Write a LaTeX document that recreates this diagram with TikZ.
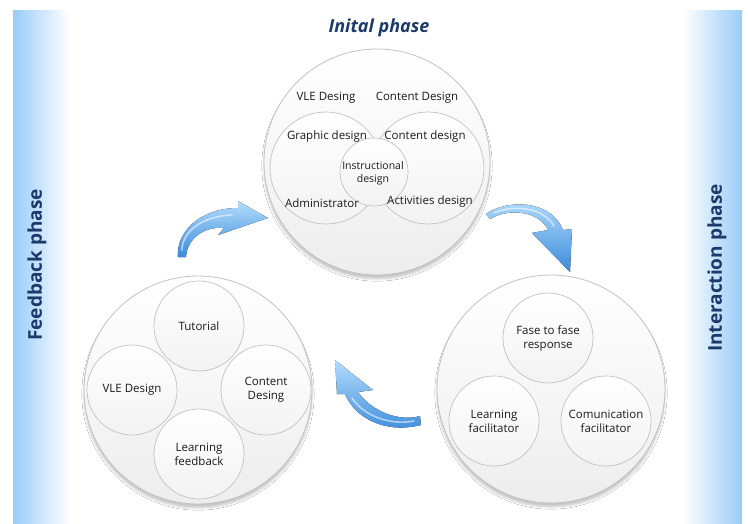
\documentclass[tikz,border=0pt]{standalone}
\usepackage{fontspec}
\setmainfont{Open Sans}
\usetikzlibrary{shadows.blur}
\definecolor{navy}{HTML}{1B3A6B}
\definecolor{bandblue}{HTML}{9ACCF8}
\definecolor{cborder}{HTML}{C2C2C2}
\definecolor{arrowlight}{HTML}{B3DDFB}
\definecolor{arrowdark}{HTML}{3A8BDC}
\definecolor{txt}{HTML}{1A1A1A}
\begin{document}
\begin{tikzpicture}[x=1pt,y=-1pt,
  bigc/.style={circle, draw=cborder, line width=0.8pt, top color=white, bottom color=black!7,
    blur shadow={shadow blur steps=8, shadow xshift=0pt, shadow yshift=-4pt, shadow opacity=22},
    minimum size=#1, inner sep=0pt},
  subc/.style={circle, draw=cborder, line width=0.7pt, top color=white, bottom color=black!5,
    minimum size=#1, inner sep=0pt, align=center, text=txt, font=\fontsize{11.5}{14}\selectfont},
  lbl/.style={font=\fontsize{11.5}{13.5}\selectfont, text=txt, align=center, inner sep=0pt},
  phasetxt/.style={font=\fontsize{19}{22}\selectfont\bfseries, text=navy, inner sep=0pt},
  arrowshade/.style={top color=arrowlight, bottom color=arrowdark, draw=none},
  shine/.style={draw=white, opacity=0.55, line width=1.6pt, line cap=round}
]
\useasboundingbox (0,0) rectangle (748,523);
\fill[white] (0,0) rectangle (748,523);
% side bands
\fill[left color=bandblue, right color=white] (13,10) rectangle (70,523);
\fill[left color=white, right color=bandblue] (682,10) rectangle (742,523);
\node[phasetxt, rotate=90] (fb) at (37,265) {Feedback phase};
\node[phasetxt, rotate=90] (ia) at (717,268) {Interaction phase};
\node[phasetxt, font=\fontsize{18}{21}\selectfont\bfseries\itshape] (ip) at (379,28) {Inital phase};

% top circle
\node[bigc=226] (top) at (377,162) {};
\node[subc=112] (tl) at (326,168) {};
\node[subc=112] (tr) at (428,168) {};
\node[subc=68] (tc) at (374,172) {};
\node[lbl] (t1) at (326,98) {VLE Desing};
\node[lbl] (t2) at (417,98) {Content Design};
\node[lbl] (t3) at (327,137) {Graphic design};
\node[lbl] (t4) at (425,137) {Content design};
\node[lbl, font=\fontsize{10.5}{13}\selectfont] (t5) at (373,173) {Instructional\\design};
\node[lbl] (t6) at (322,203) {Administrator};
\node[lbl] (t7) at (430,202) {Activities design};

% bottom-left circle
\node[bigc=228] (bl) at (198,390) {};
\node[subc=90] (tut) at (199,326) {Tutorial};
\node[subc=90] (vle) at (132,390) {VLE Design};
\node[subc=90] (cds) at (266,390) {Content\\Desing};
\node[subc=90] (lfb) at (199,454) {Learning\\feedback};

% bottom-right circle
\node[bigc=228] (br) at (551,389) {};
\node[subc=90] (ftf) at (548,338) {Fase to fase\\response};
\node[subc=90] (lfa) at (494,421) {Learning\\facilitator};
\node[subc=90] (cfa) at (606,421) {Comunication\\facilitator};

% arrows
\fill[arrowshade] (178,257) .. controls (176,232) and (200,208) .. (238,208) -- (238,201) -- (268,218) -- (218,235) -- (224,228) .. controls (205,226) and (187,238) .. (186,257) -- cycle;
\draw[shine] (182,250) .. controls (182,232) and (202,216) .. (232,215);

\fill[arrowshade] (486,214) .. controls (505,200) and (550,198) .. (563,230) -- (572,229) -- (570,272) -- (532,233) -- (548,230) .. controls (540,212) and (510,207) .. (490,219) -- cycle;
\draw[shine] (494,213) .. controls (512,205) and (542,206) .. (554,226);

\fill[arrowshade] (420,416) .. controls (400,422) and (372,412) .. (358,392) -- (373,390) -- (335,360) -- (337,394) -- (345,394) .. controls (355,418) and (385,434) .. (421,425) -- cycle;
\draw[shine] (352,398) .. controls (362,414) and (388,426) .. (414,421);
\end{tikzpicture}
\end{document}
